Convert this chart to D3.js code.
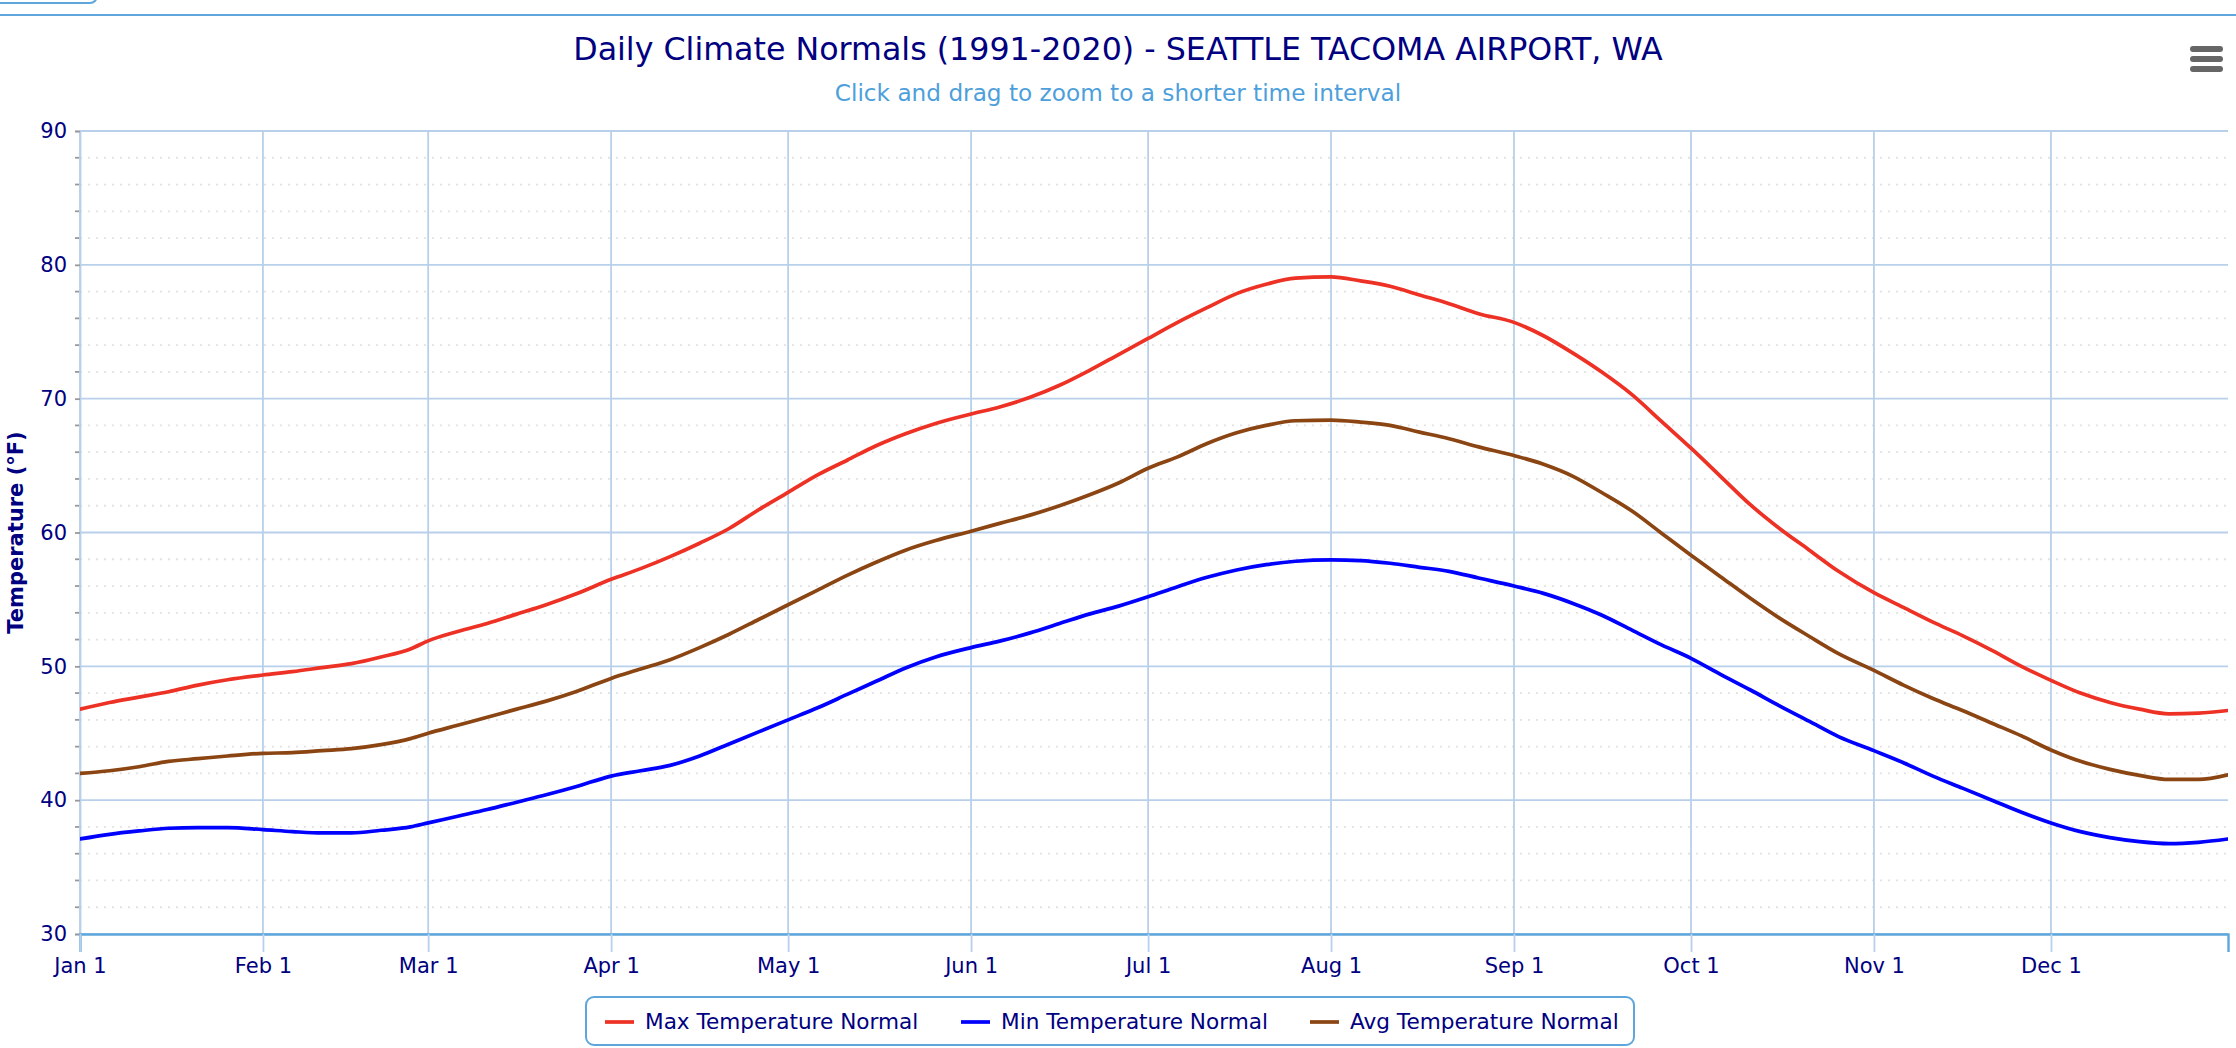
<!DOCTYPE html>
<html>
<head>
<meta charset="utf-8">
<script src="https://cdn.jsdelivr.net/npm/d3@7"></script>
<style>
  html, body { margin: 0; padding: 0; background: #fff; }
  svg { display: block; font-family: "Lucida Grande", "Lucida Sans Unicode", "DejaVu Sans", sans-serif; }
</style>
</head>
<body>
<svg id="chart" width="2236" height="1048"></svg>
<script>
// ---- data ----
const titleText = "Daily Climate Normals (1991-2020) - SEATTLE TACOMA AIRPORT, WA";
const subtitleText = "Click and drag to zoom to a shorter time interval";
const yAxisTitle = "Temperature (°F)";
const seriesNames = ["Max Temperature Normal", "Min Temperature Normal", "Avg Temperature Normal"];
const seriesColors = ["#ed3124", "#0000ff", "#8b4513"];

const dates = [
  "2021-01-01","2021-01-06","2021-01-11","2021-01-16","2021-01-21","2021-01-26",
  "2021-02-01","2021-02-06","2021-02-11","2021-02-16","2021-02-21","2021-02-26",
  "2021-03-01","2021-03-06","2021-03-11","2021-03-16","2021-03-21","2021-03-26",
  "2021-04-01","2021-04-06","2021-04-11","2021-04-16","2021-04-21","2021-04-26",
  "2021-05-01","2021-05-06","2021-05-11","2021-05-16","2021-05-21","2021-05-26",
  "2021-06-01","2021-06-06","2021-06-11","2021-06-16","2021-06-21","2021-06-26",
  "2021-07-01","2021-07-06","2021-07-11","2021-07-16","2021-07-21","2021-07-26",
  "2021-08-01","2021-08-06","2021-08-11","2021-08-16","2021-08-21","2021-08-26",
  "2021-09-01","2021-09-06","2021-09-11","2021-09-16","2021-09-21","2021-09-26",
  "2021-10-01","2021-10-06","2021-10-11","2021-10-16","2021-10-21","2021-10-26",
  "2021-11-01","2021-11-06","2021-11-11","2021-11-16","2021-11-21","2021-11-26",
  "2021-12-01","2021-12-06","2021-12-11","2021-12-16","2021-12-21","2021-12-26","2021-12-31"
];
const maxNormal = [
  46.8, 47.3, 47.7, 48.1, 48.6, 49.0,
  49.35, 49.6, 49.9, 50.2, 50.7, 51.3,
  51.9, 52.6, 53.2, 53.9, 54.6, 55.4,
  56.5, 57.3, 58.2, 59.2, 60.3, 61.7,
  63.0, 64.3, 65.4, 66.5, 67.4, 68.15,
  68.85, 69.4, 70.1, 71.0, 72.1, 73.3,
  74.5, 75.7, 76.8, 77.85, 78.55, 79.0,
  79.1, 78.8, 78.4, 77.75, 77.1, 76.35,
  75.7, 74.7, 73.4, 71.95, 70.3, 68.3,
  66.3, 64.2, 62.1, 60.3, 58.7, 57.1,
  55.5, 54.4, 53.3, 52.3, 51.2, 50.0,
  48.95, 48.0, 47.3, 46.8, 46.45, 46.5, 46.7
];
const minNormal = [
  37.1, 37.45, 37.7, 37.9, 37.95, 37.95,
  37.8, 37.65, 37.55, 37.55, 37.75, 38.0,
  38.3, 38.8, 39.3, 39.85, 40.4, 41.0,
  41.8, 42.2, 42.6, 43.3, 44.2, 45.1,
  46.0, 46.9, 47.9, 48.9, 49.9, 50.7,
  51.4, 51.9, 52.5, 53.2, 53.9, 54.5,
  55.2, 55.95, 56.65, 57.2, 57.6, 57.85,
  57.95, 57.9, 57.7, 57.4, 57.1, 56.6,
  56.0, 55.45, 54.7, 53.8, 52.7, 51.6,
  50.6, 49.4, 48.25, 47.05, 45.9, 44.75,
  43.7, 42.8, 41.8, 40.9, 40.0, 39.1,
  38.3, 37.65, 37.2, 36.9, 36.75, 36.85, 37.1
];
const avgNormal = [
  42.0, 42.2, 42.5, 42.9, 43.1, 43.3,
  43.5, 43.55, 43.7, 43.85, 44.15, 44.6,
  45.0, 45.6, 46.2, 46.8, 47.4, 48.1,
  49.1, 49.8, 50.5, 51.4, 52.4, 53.5,
  54.6, 55.7, 56.8, 57.8, 58.7, 59.4,
  60.1, 60.7, 61.3, 62.0, 62.8, 63.7,
  64.8, 65.65, 66.65, 67.45, 68.0, 68.35,
  68.4, 68.25, 68.0, 67.5, 67.0, 66.4,
  65.75, 65.1, 64.2, 62.95, 61.6, 59.95,
  58.3, 56.7, 55.1, 53.6, 52.25, 50.95,
  49.7, 48.6, 47.6, 46.7, 45.75, 44.8,
  43.75, 42.9, 42.3, 41.85, 41.55, 41.55, 41.9
];
const yTicks = [30, 40, 50, 60, 70, 80, 90];
const yMinorTicks = [32, 34, 36, 38, 42, 44, 46, 48, 52, 54, 56, 58, 62, 64, 66, 68, 72, 74, 76, 78, 82, 84, 86, 88];
const monthTickDates = ["2021-01-01","2021-02-01","2021-03-01","2021-04-01","2021-05-01","2021-06-01",
                        "2021-07-01","2021-08-01","2021-09-01","2021-10-01","2021-11-01","2021-12-01"];

// ---- layout ----
const W = 2236, H = 1048;
const plot = { left: 80, right: 2228, top: 131, bottom: 934 };
const navy = "#000080";
const gridColor = "#b8d0ea";
const axisBlue = "#5ea6db";

const parse = d3.timeParse("%Y-%m-%d");
const x = d3.scaleTime()
  .domain([parse("2021-01-01"), parse("2021-12-31")])
  .range([plot.left, plot.right]);
const y = d3.scaleLinear().domain([30, 90]).range([plot.bottom, plot.top]);

const svg = d3.select("#chart");

// top decorations
svg.append("rect").attr("x", -20).attr("y", -20).attr("width", 117).attr("height", 23)
  .attr("rx", 7).attr("fill", "#fff").attr("stroke", axisBlue).attr("stroke-width", 2);
svg.append("line").attr("x1", 0).attr("x2", W).attr("y1", 15).attr("y2", 15)
  .attr("stroke", axisBlue).attr("stroke-width", 2.2);

// title & subtitle
svg.append("text").attr("x", W / 2).attr("y", 60).attr("text-anchor", "middle")
  .attr("fill", navy).attr("font-size", 31.7).text(titleText);
svg.append("text").attr("x", W / 2).attr("y", 101).attr("text-anchor", "middle")
  .attr("fill", "#4d9fdc").attr("font-size", 23.2).text(subtitleText);

// menu icon
const menu = svg.append("g").attr("fill", "#666");
[49, 59, 69].forEach(cy => {
  menu.append("rect").attr("x", 2190).attr("y", cy - 3).attr("width", 33).attr("height", 6).attr("rx", 3);
});

// minor grid (dotted)
svg.append("g").selectAll("line").data(yMinorTicks).join("line")
  .attr("x1", plot.left).attr("x2", plot.right)
  .attr("y1", d => y(d)).attr("y2", d => y(d))
  .attr("stroke", "#e2e2e2").attr("stroke-width", 1.8).attr("stroke-dasharray", "2,6");

// minor ticks on y axis
svg.append("g").selectAll("line").data(yMinorTicks).join("line")
  .attr("x1", plot.left - 5).attr("x2", plot.left)
  .attr("y1", d => y(d)).attr("y2", d => y(d))
  .attr("stroke", "#999").attr("stroke-width", 1.8);

// major horizontal grid
svg.append("g").selectAll("line").data(yTicks).join("line")
  .attr("x1", plot.left).attr("x2", plot.right)
  .attr("y1", d => y(d)).attr("y2", d => y(d))
  .attr("stroke", gridColor).attr("stroke-width", 1.8);

// vertical grid at month starts
const monthDates = monthTickDates.map(parse);
svg.append("g").selectAll("line").data(monthDates).join("line")
  .attr("x1", d => x(d)).attr("x2", d => x(d))
  .attr("y1", plot.top).attr("y2", plot.bottom)
  .attr("stroke", gridColor).attr("stroke-width", 1.8);

// y axis
const yAxis = svg.append("g").attr("transform", `translate(${plot.left},0)`)
  .call(d3.axisLeft(y).tickValues(yTicks).tickSize(5).tickPadding(8).tickFormat(d3.format("d")));
yAxis.select(".domain").attr("stroke", gridColor).attr("stroke-width", 1.8);
yAxis.selectAll(".tick line").attr("stroke", "#999").attr("stroke-width", 1.8);
yAxis.selectAll(".tick text").attr("fill", navy).attr("font-size", 21)
  .attr("font-family", "\"Lucida Grande\", \"DejaVu Sans\", sans-serif");

// x axis
const xAxis = svg.append("g").attr("transform", `translate(0,${plot.bottom})`)
  .call(d3.axisBottom(x).tickValues(monthDates).tickSize(18).tickPadding(6)
    .tickFormat(d3.timeFormat("%b %-d")));
xAxis.select(".domain").attr("stroke", axisBlue).attr("stroke-width", 2.4);
xAxis.selectAll(".tick line").attr("stroke", gridColor).attr("stroke-width", 1.8);
xAxis.selectAll(".tick text").attr("fill", navy).attr("font-size", 21)
  .attr("font-family", "\"Lucida Grande\", \"DejaVu Sans\", sans-serif");

// y axis title
svg.append("text")
  .attr("transform", `translate(23,${(plot.top + plot.bottom) / 2}) rotate(-90)`)
  .attr("text-anchor", "middle").attr("fill", navy).attr("font-size", 21).attr("font-weight", "bold")
  .text(yAxisTitle);

// series
const seriesValues = [maxNormal, minNormal, avgNormal];
const line = d3.line().x(d => x(d.date)).y(d => y(d.value)).curve(d3.curveMonotoneX);
svg.append("clipPath").attr("id", "plotclip").append("rect")
  .attr("x", plot.left).attr("y", plot.top).attr("width", plot.right - plot.left).attr("height", plot.bottom - plot.top);
const seriesG = svg.append("g").attr("clip-path", "url(#plotclip)");
[1, 2, 0].forEach(i => {
  const pts = dates.map((d, k) => ({ date: parse(d), value: seriesValues[i][k] }));
  seriesG.append("path").datum(pts).attr("d", line)
    .attr("fill", "none").attr("stroke", seriesColors[i]).attr("stroke-width", 3.7)
    .attr("stroke-linejoin", "round").attr("stroke-linecap", "round");
});

// legend
const legend = svg.append("g");
legend.append("rect").attr("x", 586).attr("y", 997).attr("width", 1048).attr("height", 48)
  .attr("rx", 8).attr("fill", "#fff").attr("stroke", axisBlue).attr("stroke-width", 2);
const legendItemX = [605, 961, 1310];
seriesNames.forEach((name, i) => {
  const gx = legendItemX[i];
  legend.append("line").attr("x1", gx).attr("x2", gx + 29).attr("y1", 1022).attr("y2", 1022)
    .attr("stroke", seriesColors[i]).attr("stroke-width", 3.7);
  legend.append("text").attr("x", gx + 40).attr("y", 1029).attr("fill", navy)
    .attr("font-size", 21.6).text(name);
});
</script>
</body>
</html>
